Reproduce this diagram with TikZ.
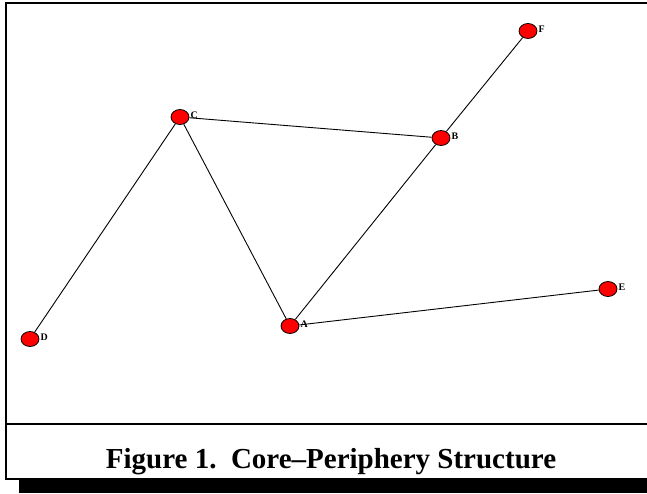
\documentclass[tikz,border=0pt]{standalone}
\usepackage{fontspec}
\setmainfont{Liberation Serif}
\usepackage{tikz}
\usetikzlibrary{shapes.geometric}
\definecolor{dotred}{RGB}{255,0,0}

\begin{document}
\begin{tikzpicture}[
    x=1pt,y=-1pt,
    actor/.style={ellipse,draw=black,fill=dotred,line width=0.8pt,
      minimum width=18pt,minimum height=15pt,inner sep=0pt,
      label={[font=\fontsize{10}{10}\selectfont\bfseries,inner sep=1pt,anchor=west,yshift=2pt]east:#1}},
    tie/.style={draw=black,line width=0.9pt},
    frame/.style={draw=black,line width=2pt}
  ]
    \useasboundingbox (0,0) rectangle (647,493);
    % frame and shadow
    \fill[black] (19,479) rectangle (647,493);
    \draw[frame] (650,3) -- (6,3) -- (6,479) -- (650,479);
    \draw[frame] (6,424) -- (650,424);
    \node[font=\fontsize{29}{29}\selectfont\bfseries,anchor=base] (title) at (331,468)
      {Figure 1.\ \ Core--Periphery Structure};
    % actors
    \node[actor=C] (c) at (180,117) {};
    \node[actor=B] (b) at (441,138) {};
    \node[actor=F] (f) at (528,31) {};
    \node[actor=E] (e) at (608,289) {};
    \node[actor=A] (a) at (290,326) {};
    \node[actor=D] (d) at (30,339) {};
    % ties
    \draw[tie] (c) -- (b);
    \draw[tie] (c) -- (a);
    \draw[tie] (c) -- (d);
    \draw[tie] (b) -- (a);
    \draw[tie] (b) -- (f);
    \draw[tie] (a) -- (e);
  \end{tikzpicture}
\end{document}
